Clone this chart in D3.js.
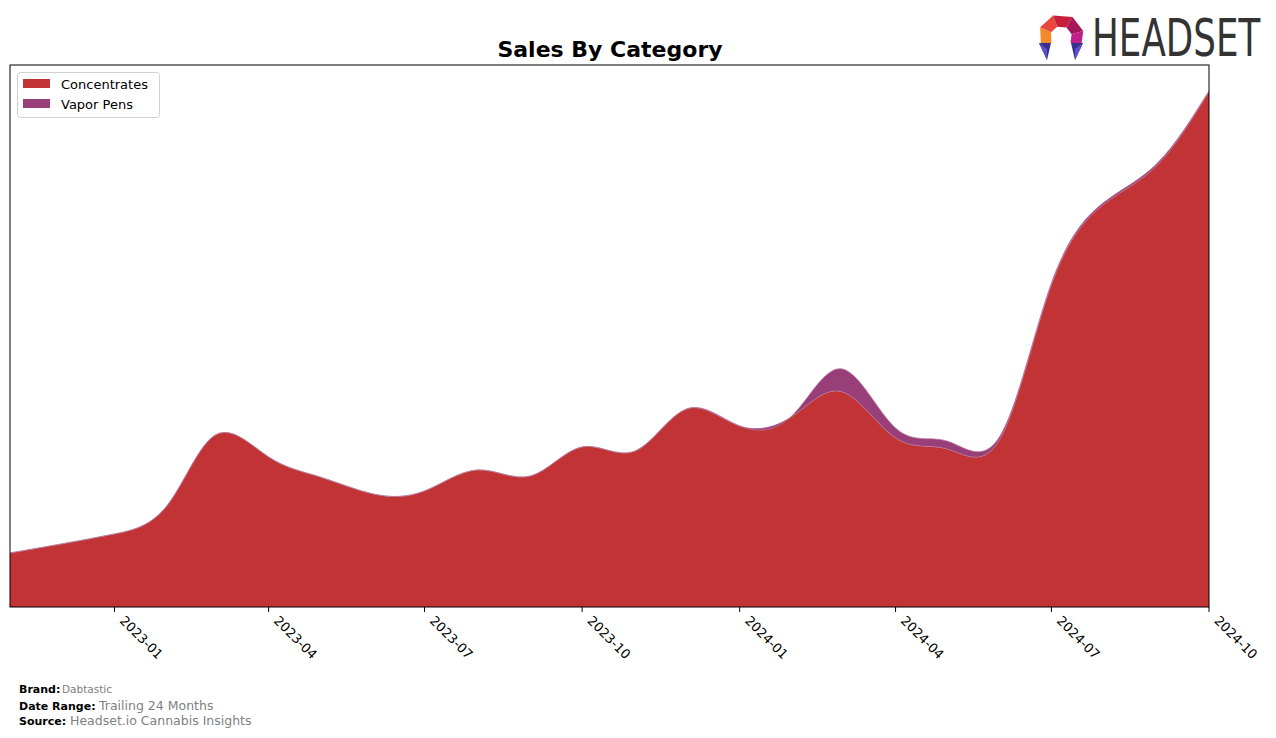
<!DOCTYPE html>
<html>
<head>
<meta charset="utf-8">
<script src="https://cdn.jsdelivr.net/npm/d3@7"></script>
<style>
  body { margin: 0; background: #fff; }
  text { font-family: "DejaVu Sans", sans-serif; }
</style>
</head>
<body>
<div id="chart"></div>
<script>
// monthly sales, Nov 2022 .. Oct 2024
var months = ["2022-11", "2022-12", "2023-01", "2023-02", "2023-03", "2023-04", "2023-05", "2023-06",
              "2023-07", "2023-08", "2023-09", "2023-10", "2023-11", "2023-12", "2024-01", "2024-02",
              "2024-03", "2024-04", "2024-05", "2024-06", "2024-07", "2024-08", "2024-09", "2024-10"];
var concentrates = [54, 63, 73, 102, 172, 150, 130, 113, 116, 137, 131, 160,
                    156, 198, 181, 191, 215, 169, 158, 168, 322, 403, 442, 515];
var vaporPens = [0, 0, 0, 0, 0, 0, 0, 0, 0, 0, 0, 0,
                 0, 0, 0, 1, 23, 10, 8, 3, 2, 2, 2, 1];
var categories = ["Concentrates", "Vapor Pens"];
var colors = ["#c13334", "#983f7a"];

var width = 1276, height = 738;
var margin = {top: 65, right: 67, bottom: 131, left: 10};

var svg = d3.select("#chart").append("svg")
    .attr("width", width)
    .attr("height", height);

var parse = d3.timeParse("%Y-%m");
var data = [];
for (var i = 0; i < months.length; i++) {
    data.push({date: parse(months[i]), "Concentrates": concentrates[i], "Vapor Pens": vaporPens[i]});
}

var series = d3.stack().keys(categories)(data);
var maxTotal = d3.max(data, function (d) { return d["Concentrates"] + d["Vapor Pens"]; });

var x = d3.scaleTime()
    .domain(d3.extent(data, function (d) { return d.date; }))
    .range([margin.left, width - margin.right]);
var y = d3.scaleLinear()
    .domain([0, maxTotal * 1.05])
    .range([height - margin.bottom, margin.top]);

var area = d3.area()
    .curve(d3.curveNatural)
    .x(function (d) { return x(d.data.date); })
    .y0(function (d) { return y(d[0]); })
    .y1(function (d) { return y(d[1]); });
var topLine = d3.line()
    .curve(d3.curveNatural)
    .x(function (d) { return x(d.data.date); })
    .y(function (d) { return y(d[1]); });

var plot = svg.append("g");
plot.selectAll("path.layer")
    .data(series)
    .enter().append("path")
    .attr("class", "layer")
    .attr("d", area)
    .attr("fill", function (d, i) { return colors[i]; });
plot.selectAll("path.edge")
    .data(series)
    .enter().append("path")
    .attr("class", "edge")
    .attr("d", topLine)
    .attr("fill", "none")
    .attr("stroke", "#b77a9c")
    .attr("stroke-width", 0.7);

// frame
svg.append("rect")
    .attr("x", margin.left)
    .attr("y", margin.top)
    .attr("width", width - margin.left - margin.right)
    .attr("height", height - margin.top - margin.bottom)
    .attr("fill", "none")
    .attr("stroke", "#000")
    .attr("stroke-width", 1);

// x axis
var ticks = x.ticks(d3.timeMonth.every(3));
var fmt = d3.timeFormat("%Y-%m");
var xAxis = svg.append("g").attr("transform", "translate(0," + (height - margin.bottom) + ")");
xAxis.selectAll("line")
    .data(ticks)
    .enter().append("line")
    .attr("x1", function (d) { return x(d); })
    .attr("x2", function (d) { return x(d); })
    .attr("y1", 0)
    .attr("y2", 5)
    .attr("stroke", "#000");
xAxis.selectAll("text")
    .data(ticks)
    .enter().append("text")
    .attr("transform", function (d) { return "translate(" + (x(d) + 10) + ",9) rotate(45)"; })
    .attr("dy", "0.6em")
    .attr("font-size", 13)
    .attr("fill", "#000")
    .text(function (d) { return fmt(d); });

// title
svg.append("text")
    .attr("x", 610)
    .attr("y", 57)
    .attr("text-anchor", "middle")
    .attr("font-size", 22)
    .attr("font-weight", "bold")
    .text("Sales By Category");

// legend
var legend = svg.append("g");
legend.append("rect")
    .attr("x", 17.5).attr("y", 72.5)
    .attr("width", 142).attr("height", 45)
    .attr("rx", 3)
    .attr("fill", "#fff")
    .attr("stroke", "#d0d0d0");
categories.forEach(function (c, i) {
    legend.append("rect")
        .attr("x", 23).attr("y", 79 + i * 20)
        .attr("width", 27).attr("height", 9)
        .attr("fill", colors[i]);
    legend.append("text")
        .attr("x", 61).attr("y", 89 + i * 20)
        .attr("font-size", 13)
        .text(c);
});

// footer
var footer = [
    {label: "Brand:", value: "Dabtastic", y: 693, lw: 43, vs: 10.5},
    {label: "Date Range:", value: "Trailing 24 Months", y: 710, lw: 80, vs: 12.5},
    {label: "Source:", value: "Headset.io Cannabis Insights", y: 725, lw: 51, vs: 12.5}
];
footer.forEach(function (f) {
    svg.append("text")
        .attr("x", 19).attr("y", f.y)
        .attr("font-size", 11)
        .attr("font-weight", "bold")
        .text(f.label);
    svg.append("text")
        .attr("x", 19 + f.lw).attr("y", f.y)
        .attr("font-size", f.vs)
        .attr("fill", "#808080")
        .text(f.value);
});

// logo
var logo = svg.append("g").attr("transform", "translate(1061,37)");
var rOut = 23, rIn = 11;
var segs = [
    {a0: 150, a1: 205, c: "#f28a2a"},
    {a0: 205, a1: 250, c: "#e8483c"},
    {a0: 250, a1: 300, c: "#c81e3c"},
    {a0: 300, a1: 345, c: "#a5165a"},
    {a0: 345, a1: 390, c: "#c01f8c"}
];
function pt(r, a) { var t = a * Math.PI / 180; return [r * Math.cos(t), r * Math.sin(t)]; }
segs.forEach(function (s) {
    var p = [pt(rOut, s.a0), pt(rOut, s.a1), pt(rIn, s.a1), pt(rIn, s.a0)];
    logo.append("polygon").attr("points", p.map(function (q) { return q.join(","); }).join(" ")).attr("fill", s.c);
});
logo.append("polygon").attr("points", "-22,6 -10,6 -14,23").attr("fill", "#3a2f8f");
logo.append("polygon").attr("points", "-22,6 -14,23 -14,12").attr("fill", "#5d52cc");
logo.append("polygon").attr("points", "22,6 10,6 14,23").attr("fill", "#3a2f8f");
logo.append("polygon").attr("points", "22,6 14,23 14,12").attr("fill", "#5d52cc");
svg.append("text")
    .attr("transform", "translate(1092,56) scale(0.7,1)")
    .attr("font-size", 51)
    .attr("fill", "#333")
    .text("HEADSET");
</script>
</body>
</html>
